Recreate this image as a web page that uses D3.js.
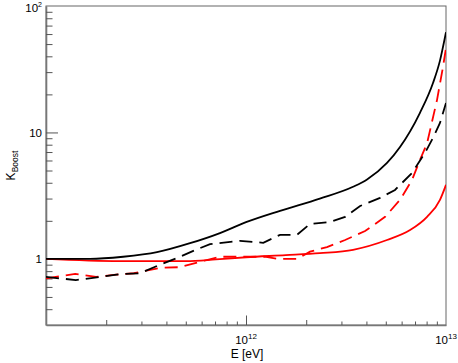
<!DOCTYPE html>
<html><head><meta charset="utf-8">
<script src="https://cdn.jsdelivr.net/npm/d3@7/dist/d3.min.js"></script>
<style>
body{margin:0;background:#fff}
svg{display:block}
text{font-family:"Liberation Sans",Arial,Helvetica,sans-serif;fill:#000}
</style>
</head><body>
<svg id="chart" width="458" height="363"></svg>
<script>
// ---- data (E in eV, K_Boost) ----
const blackSolidE = [1.0e11, 1.66e11, 2.43e11, 3.59e11, 5.25e11, 7.41e11, 1.0e12, 1.48e12, 2.34e12, 3.43e12, 4.03e12, 5.07e12, 5.89e12, 7.41e12, 8.61e12, 9.33e12, 1.0e13];
const blackSolidK = [1.0, 1.0, 1.04, 1.13, 1.33, 1.60, 1.95, 2.40, 3.0, 3.72, 4.25, 5.74, 7.67, 14.3, 24.6, 37, 62];

const blackDashE = [1.0e11, 1.41e11, 1.86e11, 2.40e11, 2.95e11, 3.72e11, 4.68e11, 5.62e11, 6.61e11, 9.33e11, 1.22e12, 1.48e12, 1.80e12, 2.09e12, 2.63e12, 3.13e12, 3.72e12, 4.68e12, 5.56e12, 6.76e12, 7.85e12, 8.61e12, 9.33e12, 1.0e13];
const blackDashK = [0.72, 0.68, 0.72, 0.76, 0.77, 0.90, 1.04, 1.18, 1.31, 1.39, 1.34, 1.55, 1.55, 1.89, 1.96, 2.15, 2.62, 3.04, 3.51, 4.78, 6.89, 9.06, 11.9, 17.1];

const redDashE = [1.0e11, 1.40e11, 1.78e11, 2.24e11, 2.75e11, 3.72e11, 4.68e11, 5.89e11, 7.41e11, 9.89e11, 1.24e12, 1.43e12, 1.80e12, 2.09e12, 2.54e12, 3.13e12, 3.94e12, 4.96e12, 5.89e12, 6.76e12, 7.41e12, 8.04e12, 9.02e12, 9.66e12, 1.0e13];
const redDashK = [0.70, 0.76, 0.72, 0.75, 0.77, 0.85, 0.86, 0.95, 1.04, 1.04, 1.04, 1.0, 1.0, 1.14, 1.24, 1.41, 1.66, 2.15, 2.93, 4.2, 6.07, 8.2, 18.1, 33, 46.6];

const redSolidE = [1.0e11, 2.34e11, 5.01e11, 7.08e11, 1.0e12, 1.58e12, 2.34e12, 3.43e12, 5.07e12, 6.61e12, 8.04e12, 9.33e12, 1.0e13];
const redSolidK = [1.0, 0.96, 0.96, 0.99, 1.03, 1.07, 1.11, 1.18, 1.41, 1.69, 2.15, 2.93, 3.85];

const xDomain = [1e11, 1e13];
const yDomain = [0.3, 100];
const xMinorTicks = [2e11,3e11,4e11,5e11,6e11,7e11,8e11,9e11,2e12,3e12,4e12,5e12,6e12,7e12,8e12,9e12];
const xMajorTicks = [1e12];
const xLabelValues = [1e12, 1e13];
const xLabelExps = ["12", "13"];
const yMinorTicks = [0.4,0.5,0.6,0.7,0.8,0.9,2,3,4,5,6,7,8,9,20,30,40,50,60,70,80,90];
const yMajorTicks = [1, 10];
const yLabelValues = [1, 10, 100];
const yLabelBases = ["1", "10", "10"];
const yLabelExps = ["", "", "2"];

// ---- layout ----
const L = 46, R = 446, T = 6, B = 325;
const svg = d3.select("#chart");
const x = d3.scaleLog().domain(xDomain).range([L, R]);
const y = d3.scaleLog().domain(yDomain).range([B, T]);

svg.append("defs").append("clipPath").attr("id","clip")
  .append("rect").attr("x",L).attr("y",T).attr("width",R-L).attr("height",B-T);

// frame top/right
svg.append("rect").attr("x",L).attr("y",T).attr("width",R-L).attr("height",B-T)
  .attr("fill","none").attr("stroke","#666").attr("stroke-width",1);

// x axis ticks (pointing inward/up)
const xAxis = d3.axisBottom(x).tickValues(xMinorTicks.concat(xMajorTicks)).tickFormat("").tickSizeOuter(0);
const gx = svg.append("g").attr("transform",`translate(0,${B})`).call(xAxis);
gx.selectAll(".tick line").attr("stroke","#555").attr("stroke-width",1)
  .attr("y2", d => xMajorTicks.includes(d) ? -9.5 : (String(d).startsWith("2") ? -5 : -3.5));
gx.select(".domain").attr("stroke","#777").attr("stroke-width",1.6);

// y axis ticks (pointing inward/right)
const yAxis = d3.axisLeft(y).tickValues(yMinorTicks.concat(yMajorTicks)).tickFormat("").tickSizeOuter(0);
const gy = svg.append("g").attr("transform",`translate(${L},0)`).call(yAxis);
gy.selectAll(".tick line").attr("stroke","#555").attr("stroke-width",1)
  .attr("x2", d => yMajorTicks.includes(d) ? 12 : 6.5);
gy.select(".domain").attr("stroke","#777").attr("stroke-width",1.6);

// x labels
xLabelValues.forEach((v,i) => {
  const t = svg.append("text").attr("x", x(v)).attr("y", 343.5).attr("text-anchor","middle")
    .style("font-size","11.5px");
  t.append("tspan").text("10");
  t.append("tspan").attr("dy",-5).style("font-size","8px").text(xLabelExps[i]);
});
// y labels
yLabelValues.forEach((v,i) => {
  const t = svg.append("text").attr("x", 42).attr("y", Math.max(y(v) + 4.2, 11.5)).attr("text-anchor","end")
    .style("font-size","11.5px");
  t.append("tspan").text(yLabelBases[i]);
  if (yLabelExps[i]) t.append("tspan").attr("dy",-4.8).style("font-size","7px").text(yLabelExps[i]);
});

// axis titles
svg.append("text").attr("x", 247).attr("y", 358).attr("text-anchor","middle")
  .style("font-size","12px").text("E [eV]");
const yt = svg.append("text").attr("transform", `translate(15,${(T+B)/2}) rotate(-90)`)
  .attr("text-anchor","middle").style("font-size","12px");
yt.append("tspan").text("K");
yt.append("tspan").attr("dy",3).style("font-size","8.5px").text("Boost");

// curves
const plot = svg.append("g").attr("clip-path","url(#clip)");
const smooth = d3.line().x(d => x(d[0])).y(d => y(d[1])).curve(d3.curveMonotoneX);
const jag = d3.line().x(d => x(d[0])).y(d => y(d[1]));
const zip = (a,b) => a.map((v,i) => [v, b[i]]);

plot.append("path").datum(zip(redSolidE, redSolidK)).attr("d", smooth)
  .attr("fill","none").attr("stroke","#ff0000").attr("stroke-width",1.8);
plot.append("path").datum(zip(redDashE, redDashK)).attr("d", jag)
  .attr("fill","none").attr("stroke","#ff0000").attr("stroke-width",1.8).attr("stroke-dasharray","13,7");
plot.append("path").datum(zip(blackDashE, blackDashK)).attr("d", jag)
  .attr("fill","none").attr("stroke","#000").attr("stroke-width",1.8).attr("stroke-dasharray","13,7");
plot.append("path").datum(zip(blackSolidE, blackSolidK)).attr("d", smooth)
  .attr("fill","none").attr("stroke","#000").attr("stroke-width",1.8);
</script>
</body></html>
